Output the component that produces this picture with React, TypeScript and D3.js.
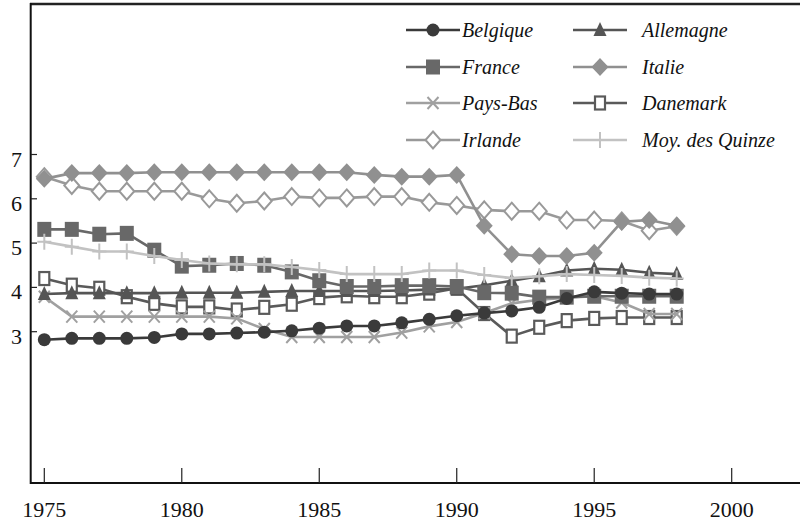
import React from "react";
import * as d3 from "d3";

const years = d3.range(1975, 1999);
const xTicks = [1975, 1980, 1985, 1990, 1995, 2000];
const yTicks = [3, 4, 5, 6, 7];

const belgique = [2.82, 2.85, 2.85, 2.85, 2.87, 2.95, 2.95, 2.97, 2.99, 3.02, 3.08, 3.13, 3.13, 3.2, 3.28, 3.36, 3.42, 3.47, 3.55, 3.75, 3.9, 3.87, 3.85, 3.85];
const allemagne = [3.85, 3.87, 3.87, 3.87, 3.87, 3.88, 3.88, 3.88, 3.9, 3.92, 3.92, 3.92, 3.92, 3.93, 3.95, 3.97, 4.05, 4.15, 4.25, 4.38, 4.42, 4.4, 4.33, 4.3];
const france = [5.31, 5.31, 5.2, 5.22, 4.84, 4.48, 4.5, 4.54, 4.5, 4.35, 4.15, 4.02, 4.02, 4.04, 4.04, 4.02, 3.88, 3.87, 3.78, 3.78, 3.8, 3.8, 3.8, 3.8];
const italie = [6.45, 6.58, 6.58, 6.58, 6.6, 6.6, 6.6, 6.6, 6.6, 6.6, 6.6, 6.6, 6.54, 6.5, 6.5, 6.54, 5.39, 4.75, 4.71, 4.71, 4.78, 5.48, 5.52, 5.39];
const paysBas = [3.79, 3.34, 3.34, 3.34, 3.34, 3.34, 3.34, 3.3, 3.06, 2.88, 2.88, 2.88, 2.88, 2.98, 3.12, 3.22, 3.42, 3.64, 3.72, 3.77, 3.8, 3.66, 3.4, 3.4];
const danemark = [4.2, 4.05, 3.98, 3.79, 3.64, 3.56, 3.56, 3.49, 3.55, 3.62, 3.77, 3.81, 3.79, 3.79, 3.87, 3.98, 3.41, 2.9, 3.1, 3.25, 3.3, 3.32, 3.32, 3.32];
const irlande = [6.5, 6.3, 6.17, 6.17, 6.17, 6.17, 6.0, 5.9, 5.95, 6.05, 6.02, 6.02, 6.05, 6.05, 5.92, 5.85, 5.75, 5.72, 5.72, 5.52, 5.52, 5.5, 5.28, 5.38];
const moyQuinze = [5.03, 4.92, 4.81, 4.81, 4.71, 4.62, 4.54, 4.52, 4.52, 4.46, 4.39, 4.3, 4.3, 4.3, 4.38, 4.38, 4.28, 4.21, 4.25, 4.3, 4.28, 4.26, 4.22, 4.2];

type Marker = "circle" | "triangle" | "square" | "diamond" | "x" | "openSquare" | "openDiamond" | "plus";

const series: { name: string; values: number[]; color: string; marker: Marker }[] = [
  { name: "Belgique", values: belgique, color: "#3a3a3a", marker: "circle" },
  { name: "Allemagne", values: allemagne, color: "#555555", marker: "triangle" },
  { name: "France", values: france, color: "#686868", marker: "square" },
  { name: "Italie", values: italie, color: "#909090", marker: "diamond" },
  { name: "Pays-Bas", values: paysBas, color: "#a0a0a0", marker: "x" },
  { name: "Danemark", values: danemark, color: "#5a5a5a", marker: "openSquare" },
  { name: "Irlande", values: irlande, color: "#999999", marker: "openDiamond" },
  { name: "Moy. des Quinze", values: moyQuinze, color: "#c2c2c2", marker: "plus" },
];

const drawOrder = ["Irlande", "Danemark", "Pays-Bas", "Allemagne", "France", "Belgique", "Italie", "Moy. des Quinze"];

const x = d3.scaleLinear().domain([1975, 2000]).range([44.3, 731.7]);
const y = d3.scaleLinear().domain([3, 7]).range([331.7, 154.5]);

function MarkerShape({ type, cx, cy, color }: { type: Marker; cx: number; cy: number; color: string }) {
  switch (type) {
    case "circle":
      return <circle cx={cx} cy={cy} r={6.5} fill={color} />;
    case "triangle":
      return <path d={`M${cx},${cy - 8}L${cx + 6.5},${cy + 6}L${cx - 6.5},${cy + 6}Z`} fill={color} />;
    case "square":
      return <rect x={cx - 7} y={cy - 7.5} width={14} height={15} fill={color} />;
    case "diamond":
      return <path d={`M${cx},${cy - 9}L${cx + 8.5},${cy}L${cx},${cy + 9}L${cx - 8.5},${cy}Z`} fill={color} />;
    case "openDiamond":
      return (
        <path d={`M${cx},${cy - 8.5}L${cx + 7.5},${cy}L${cx},${cy + 8.5}L${cx - 7.5},${cy}Z`} fill="white" stroke={color} strokeWidth={2} />
      );
    case "openSquare":
      return <rect x={cx - 5} y={cy - 6.5} width={10} height={13} fill="white" stroke={color} strokeWidth={2.2} />;
    case "x":
      return (
        <path d={`M${cx - 5.5},${cy - 6}L${cx + 5.5},${cy + 6}M${cx + 5.5},${cy - 6}L${cx - 5.5},${cy + 6}`} stroke={color} strokeWidth={2} fill="none" />
      );
    case "plus":
      return (
        <path d={`M${cx},${cy - 8}L${cx},${cy + 8}M${cx - 7},${cy}L${cx + 7},${cy}`} stroke={color} strokeWidth={2} fill="none" />
      );
  }
  return null;
}

const line = d3
  .line<[number, number]>()
  .x((d) => x(d[0]))
  .y((d) => y(d[1]));

export default function App() {
  const ordered = drawOrder.map((n) => series.find((s) => s.name === n)!);
  const legendRows = [30, 67, 103, 140];
  const legendCols = [
    { x0: 406, x1: 460, tx: 462 },
    { x0: 573, x1: 627, tx: 642 },
  ];
  return (
    <svg width={800} height={523} style={{ position: "absolute", left: 0, top: 0, background: "#ffffff" }} fontFamily="'Liberation Serif', 'DejaVu Serif', serif">
      {/* frame */}
      <line x1={30} x2={800} y1={4} y2={4} stroke="#222" strokeWidth={2.5} />
      <line x1={30.7} x2={30.7} y1={3} y2={484} stroke="#111" strokeWidth={2} />
      <line x1={30} x2={800} y1={483} y2={483} stroke="#111" strokeWidth={2} />
      {xTicks.map((t) => (
        <g key={t}>
          <line x1={x(t)} x2={x(t)} y1={468} y2={483} stroke="#222" strokeWidth={1.2} />
          <text x={x(t)} y={517} textAnchor="middle" fontSize={22} fill="#111">
            {t}
          </text>
        </g>
      ))}
      {yTicks.map((t) => (
        <g key={t}>
          <line x1={31} x2={37} y1={y(t)} y2={y(t)} stroke="#222" strokeWidth={1.2} />
          <text x={22} y={y(t) + 12} textAnchor="end" fontSize={22} fill="#111">
            {t}
          </text>
        </g>
      ))}
      {ordered.map((s) => {
        const pts = years.map((yr, i) => [yr, s.values[i]] as [number, number]);
        return (
          <g key={s.name}>
            <path d={line(pts) || ""} fill="none" stroke={s.color} strokeWidth={2.6} />
            {pts.map((p, i) => (
              <MarkerShape key={i} type={s.marker} cx={x(p[0])} cy={y(p[1])} color={s.color} />
            ))}
          </g>
        );
      })}
      {/* legend */}
      {series.map((s, i) => {
        const col = legendCols[i % 2];
        const ry = legendRows[Math.floor(i / 2)];
        const mx = (col.x0 + col.x1) / 2;
        return (
          <g key={s.name}>
            <line x1={col.x0} x2={col.x1} y1={ry} y2={ry} stroke={s.color} strokeWidth={2.6} />
            <MarkerShape type={s.marker} cx={mx} cy={ry} color={s.color} />
            <text x={col.tx} y={ry + 7} fontSize={20} fontStyle="italic" fill="#111">
              {s.name}
            </text>
          </g>
        );
      })}
    </svg>
  );
}
